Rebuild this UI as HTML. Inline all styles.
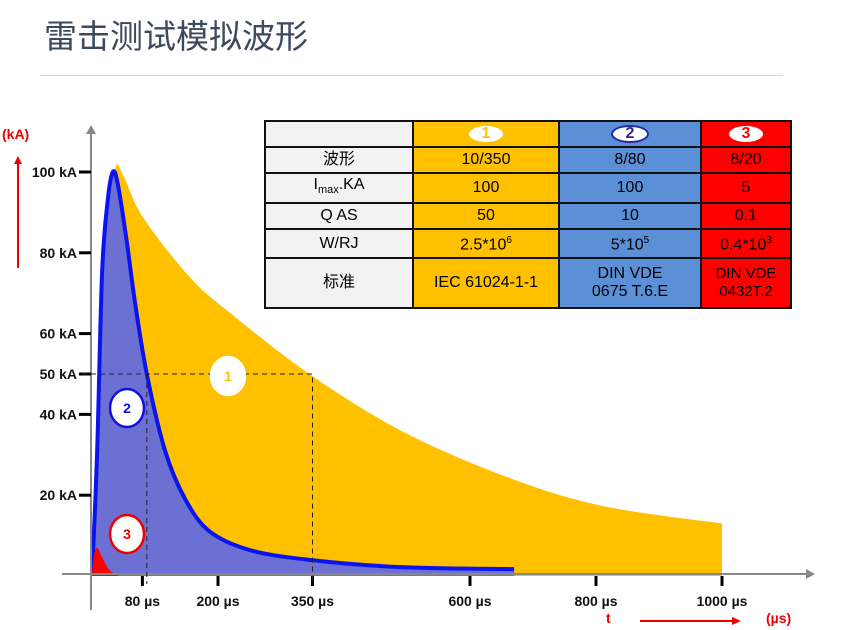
<!DOCTYPE html>
<html><head><meta charset="utf-8"><style>
body{margin:0;width:852px;height:630px;background:#fff;overflow:hidden;font-family:"Liberation Sans","Noto Sans CJK SC",sans-serif}
#title{position:absolute;left:44px;top:10px;font-size:33px;color:#3c4a5c;font-family:"Liberation Sans","Noto Sans CJK SC",sans-serif}
#rule{position:absolute;left:40px;top:75px;width:743px;height:1px;background:#d8d8d8}
table{position:absolute;left:264px;top:120px;border-collapse:collapse;font-size:16px;text-align:center}
td{border:2px solid #111;padding:0;line-height:18px}
.o{background:#ffc000}.b{background:#5b8fd6}.r{background:#ff0000}.g{background:#f2f2f2}
</style></head><body>
<div id="title">雷击测试模拟波形</div>
<div id="rule"></div>
<svg id="chart" width="852" height="630" style="position:absolute;left:0;top:0"></svg>
<table>
<tr style="height:26px"><td class="g" style="width:146px"></td><td class="o" style="width:144px"><span style="display:inline-block;background:#fff;color:#ffc000;border-radius:50%;width:34px;font-weight:bold;line-height:16px">1</span></td><td class="b" style="width:140px"><span style="display:inline-block;background:#fff;color:#2a2aa0;border:2px solid #2a2aa0;border-radius:50%;width:34px;font-weight:bold;line-height:14px">2</span></td><td class="r" style="width:88px"><span style="display:inline-block;background:#fff;color:#f00;border-radius:50%;width:34px;font-weight:bold;line-height:16px">3</span></td></tr>
<tr style="height:26px"><td class="g">波形</td><td class="o">10/350</td><td class="b">8/80</td><td class="r">8/20</td></tr>
<tr style="height:30px"><td class="g">I<sub style="font-size:11px">max</sub>.KA</td><td class="o">100</td><td class="b">100</td><td class="r">5</td></tr>
<tr style="height:26px"><td class="g">Q AS</td><td class="o">50</td><td class="b">10</td><td class="r">0.1</td></tr>
<tr style="height:29px"><td class="g">W/RJ</td><td class="o">2.5*10<sup style="font-size:10px">6</sup></td><td class="b">5*10<sup style="font-size:10px">5</sup></td><td class="r">0.4*10<sup style="font-size:10px">3</sup></td></tr>
<tr style="height:50px"><td class="g">标准</td><td class="o">IEC 61024-1-1</td><td class="b">DIN VDE<br>0675 T.6.E</td><td class="r" style="font-size:15px">DIN VDE<br>0432T.2</td></tr>
</table>
<script>
const yTicks=[100,80,60,50,40,20];
const xTicks=[80,200,350,600,800,1000];
const t1=[0,20,36,50,80,155,220,345,490,650,805,1000];
const i1=[0,75,100,99,89,74,65,50,36,25,17.5,13];
const t2=[0,8,16,25,33,41,55,68,87,116,148,187,251,345,490,670];
const i2=[0,30,75,93,100,97,83,68,50,31,19,11,6.4,4,2.2,1.7];
const t3=[0,3,8,15,25,35,44];
const i3=[0,5,7,5,2,0.6,0];
const NS="http://www.w3.org/2000/svg";
const svg=document.getElementById('chart');
const X=t=>92+t*0.63, Y=v=>576-v*4.04;
function el(tag,attrs,txt){const e=document.createElementNS(NS,tag);for(const k in attrs)e.setAttribute(k,attrs[k]);if(txt!==undefined)e.textContent=txt;svg.appendChild(e);return e;}
function smooth(ts,vs){
 const p=ts.map((t,i)=>[X(t),Y(vs[i])]);
 let d='M'+p[0][0]+','+p[0][1];
 for(let i=0;i<p.length-1;i++){
  const p0=p[Math.max(0,i-1)],p1=p[i],p2=p[i+1],p3=p[Math.min(p.length-1,i+2)];
  const c1=[p1[0]+(p2[0]-p0[0])/6,p1[1]+(p2[1]-p0[1])/6];
  const c2=[p2[0]-(p3[0]-p1[0])/6,p2[1]-(p3[1]-p1[1])/6];
  d+=` C${c1[0]},${c1[1]} ${c2[0]},${c2[1]} ${p2[0]},${p2[1]}`;
 }
 return d;
}
function area(ts,vs){return smooth(ts,vs)+' L'+X(ts[ts.length-1])+','+Y(0)+' L'+X(ts[0])+','+Y(0)+'Z';}
let a1=el('path',{d:area(t1,i1),fill:'#ffc000'});

let a2=el('path',{d:area(t2,i2),fill:'#6b70d2'});

let l2=el('path',{d:smooth(t2,i2),fill:'none',stroke:'#0a14f0','stroke-width':4,'stroke-linejoin':'round'});

let a3=el('path',{d:area(t3,i3),fill:'#ff0000'});

let ya=el('line',{x1:91,y1:610,x2:91,y2:132,stroke:'#888','stroke-width':2});

el('path',{d:'M86,134 L91,125 L96,134Z',fill:'#888'});
let xa=el('line',{x1:62,y1:574,x2:808,y2:574,stroke:'#888','stroke-width':2});

el('path',{d:'M806,569 L815,574 L806,579Z',fill:'#888'});
yTicks.forEach(v=>{
 const tk=el('line',{x1:79,x2:91,y1:Y(v),y2:Y(v),stroke:'#000','stroke-width':3});
 
 const lb=el('text',{x:77,y:Y(v)+5,'text-anchor':'end','font-size':14,'font-weight':'bold',fill:'#111'},v+' kA');
 
});
xTicks.forEach(t=>{
 const tk=el('line',{x1:X(t),x2:X(t),y1:576,y2:586,stroke:'#000','stroke-width':3});
 
 const lb=el('text',{x:X(t),y:606,'text-anchor':'middle','font-size':14,'font-weight':'bold',fill:'#111'},t+' µs');
 
});
el('path',{d:`M82,${Y(50)} H${X(350)} V584`,fill:'none',stroke:'#222','stroke-dasharray':'5,4','stroke-width':1});
el('path',{d:`M${X(87)},${Y(50)} V584`,fill:'none',stroke:'#222','stroke-dasharray':'5,4','stroke-width':1});
[[228,376,'1','#fff','#ffc000','#fff'],[127,408,'2','#fff','#1010e0','#1010e0'],[127,534,'3','#fff','#e00','#e00']].forEach(b=>{
 const c=el('ellipse',{cx:b[0],cy:b[1],rx:17,ry:19,fill:b[3],stroke:b[5],'stroke-width':2.5});
 
 el('text',{x:b[0],y:b[1]+5,'text-anchor':'middle','font-size':14,'font-weight':'bold',fill:b[4]},b[2]);
});
let u=el('text',{x:2,y:139,'font-size':14,'font-weight':'bold',fill:'#e00'},'(kA)');

el('line',{x1:18,y1:268,x2:18,y2:162,stroke:'#e00','stroke-width':2});
el('path',{d:'M14,164 L18,156 L22,164Z',fill:'#e00'});
let tl=el('text',{x:606,y:623,'font-size':14,'font-weight':'bold',fill:'#e00'},'t');

el('line',{x1:640,y1:621,x2:734,y2:621,stroke:'#e00','stroke-width':2});
el('path',{d:'M732,617 L741,621 L732,625Z',fill:'#e00'});
let us=el('text',{x:766,y:623,'font-size':14,'font-weight':'bold',fill:'#e00'},'(µs)');

</script>
</body></html>
